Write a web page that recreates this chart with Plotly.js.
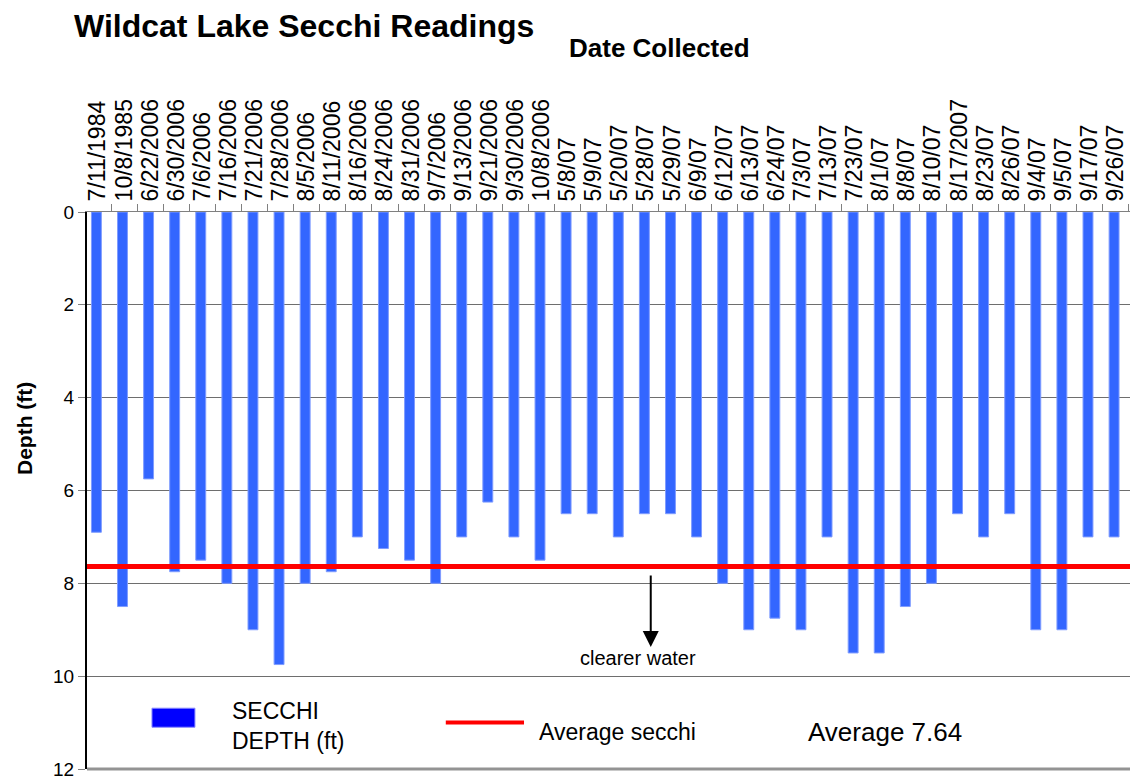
<!DOCTYPE html>
<html>
<head>
<meta charset="utf-8">
<script src="https://cdn.plot.ly/plotly-3.0.1.min.js"></script>
<style>html,body{margin:0;padding:0;background:#fff;}#chart{width:1130px;height:779px;}</style>
</head>
<body>
<div id="chart"></div>
<script>
// ---- Data ----
const dates = [
  "7/11/1984","10/8/1985","6/22/2006","6/30/2006","7/6/2006","7/16/2006","7/21/2006","7/28/2006",
  "8/5/2006","8/11/2006","8/16/2006","8/24/2006","8/31/2006","9/7/2006","9/13/2006","9/21/2006",
  "9/30/2006","10/8/2006","5/8/07","5/9/07","5/20/07","5/28/07","5/29/07","6/9/07","6/12/07",
  "6/13/07","6/24/07","7/3/07","7/13/07","7/23/07","8/1/07","8/8/07","8/10/07","8/17/2007",
  "8/23/07","8/26/07","9/4/07","9/5/07","9/17/07","9/26/07"
];
const secchiDepth = [
  6.9, 8.5, 5.75, 7.75, 7.5, 8.0, 9.0, 9.75,
  8.0, 7.75, 7.0, 7.25, 7.5, 8.0, 7.0, 6.25,
  7.0, 7.5, 6.5, 6.5, 7.0, 6.5, 6.5, 7.0, 8.0,
  9.0, 8.75, 9.0, 7.0, 9.5, 9.5, 8.5, 8.0, 6.5,
  7.0, 6.5, 9.0, 9.0, 7.0, 7.0
];
const averageSecchi = 7.64;
const yTicks = [0, 2, 4, 6, 8, 10, 12];

const FONT = "Liberation Sans, Arial, sans-serif";

const traces = [{
  type: "bar",
  x: dates,
  y: secchiDepth,
  base: 0,
  width: 0.38,
  offset: -0.25,
  marker: { color: "#3366FF", line: { color: "#7f9cff", width: 1 } },
  name: "SECCHI DEPTH (ft)",
  showlegend: false,
  hoverinfo: "x+y"
}];

const layout = {
  width: 1130,
  height: 779,
  margin: { l: 87, r: 0, t: 212, b: 10, pad: 0 },
  paper_bgcolor: "#ffffff",
  plot_bgcolor: "#ffffff",
  font: { family: FONT, color: "#000" },
  showlegend: false,
  title: {
    text: "Wildcat Lake Secchi Readings",
    font: { family: FONT, size: 32, weight: "bold", color: "#000" },
    xref: "container", yref: "container",
    x: 74 / 1130, xanchor: "left",
    y: 1 - 26 / 779, yanchor: "middle"
  },
  xaxis: {
    type: "category",
    side: "top",
    range: [-0.42, 39.55],
    tickmode: "array",
    tickvals: dates,
    ticktext: dates,
    tickangle: -90,
    tickson: "boundaries",
    ticks: "outside",
    ticklen: 7,
    tickcolor: "#808080",
    tickwidth: 1,
    showline: true,
    linecolor: "#808080",
    linewidth: 1,
    showgrid: false,
    zeroline: false,
    tickfont: { family: FONT, size: 23, color: "#000" },
    ticklabelstandoff: 5,
    ticklabeloverflow: "allow",
    fixedrange: true
  },
  yaxis: {
    range: [12, 0],
    tickmode: "array",
    tickvals: yTicks,
    ticktext: yTicks.map(String),
    ticks: "outside",
    ticklen: 7,
    tickcolor: "#808080",
    showline: true,
    linecolor: "#000",
    linewidth: 2,
    showgrid: true,
    gridcolor: "#6e6e6e",
    gridwidth: 1,
    zeroline: false,
    tickfont: { family: FONT, size: 19, color: "#000" },
    ticklabeloverflow: "allow",
    fixedrange: true
  },
  shapes: [
    // average line
    { type: "line", xref: "paper", yref: "y", x0: 0, x1: 1, y0: averageSecchi, y1: averageSecchi,
      line: { color: "#FF0000", width: 5 } },
    // bottom border
    { type: "line", xref: "paper", yref: "paper", x0: 0, x1: 1, y0: 0, y1: 0,
      line: { color: "#939393", width: 3 } },
    // legend swatch (bars)
    { type: "rect", xref: "paper", yref: "y", x0: 0.0623, x1: 0.1035, y0: 10.69, y1: 11.10,
      fillcolor: "#0000FF", line: { color: "#8a8aff", width: 1 } },
    // legend swatch (average line)
    { type: "line", xref: "paper", yref: "y", x0: 0.344, x1: 0.419, y0: 11.0, y1: 11.0,
      line: { color: "#FF0000", width: 4 } }
  ],
  annotations: [
    { text: "<b>Date Collected</b>", xref: "paper", yref: "paper", x: (659 - 87) / 1043, y: 1 + (212 - 48) / 557,
      xanchor: "center", yanchor: "middle", showarrow: false, font: { family: FONT, size: 26, color: "#000" } },
    { text: "<b>Depth (ft)</b>", xref: "paper", yref: "paper", x: (24 - 87) / 1043, y: 1 - (429 - 212) / 557,
      xanchor: "center", yanchor: "middle", textangle: -90, showarrow: false, font: { family: FONT, size: 21, color: "#000" } },
    { text: "SECCHI<br>DEPTH (ft)", xref: "paper", yref: "y", x: 0.137, y: 11.08, align: "left",
      xanchor: "left", yanchor: "middle", showarrow: false, font: { family: FONT, size: 23, color: "#000" } },
    { text: "Average secchi", xref: "paper", yref: "y", x: 0.4314, y: 11.2,
      xanchor: "left", yanchor: "middle", showarrow: false, font: { family: FONT, size: 23, color: "#000" } },
    { text: "Average " + averageSecchi.toFixed(2), xref: "paper", yref: "y", x: 0.689, y: 11.2,
      xanchor: "left", yanchor: "middle", showarrow: false, font: { family: FONT, size: 26, color: "#000" } },
    { text: "clearer water", xref: "paper", yref: "y", x: 0.528, y: 9.6,
      xanchor: "center", yanchor: "middle", showarrow: false, font: { family: FONT, size: 20, color: "#000" } },
    { text: "", xref: "paper", yref: "y", x: 0.5405, y: 9.37, ax: 0, ay: -73,
      showarrow: true, arrowhead: 2, arrowsize: 1.6, arrowwidth: 2, arrowcolor: "#000" }
  ]
};

Plotly.newPlot("chart", traces, layout, { displayModeBar: false, staticPlot: true });
</script>
</body>
</html>
